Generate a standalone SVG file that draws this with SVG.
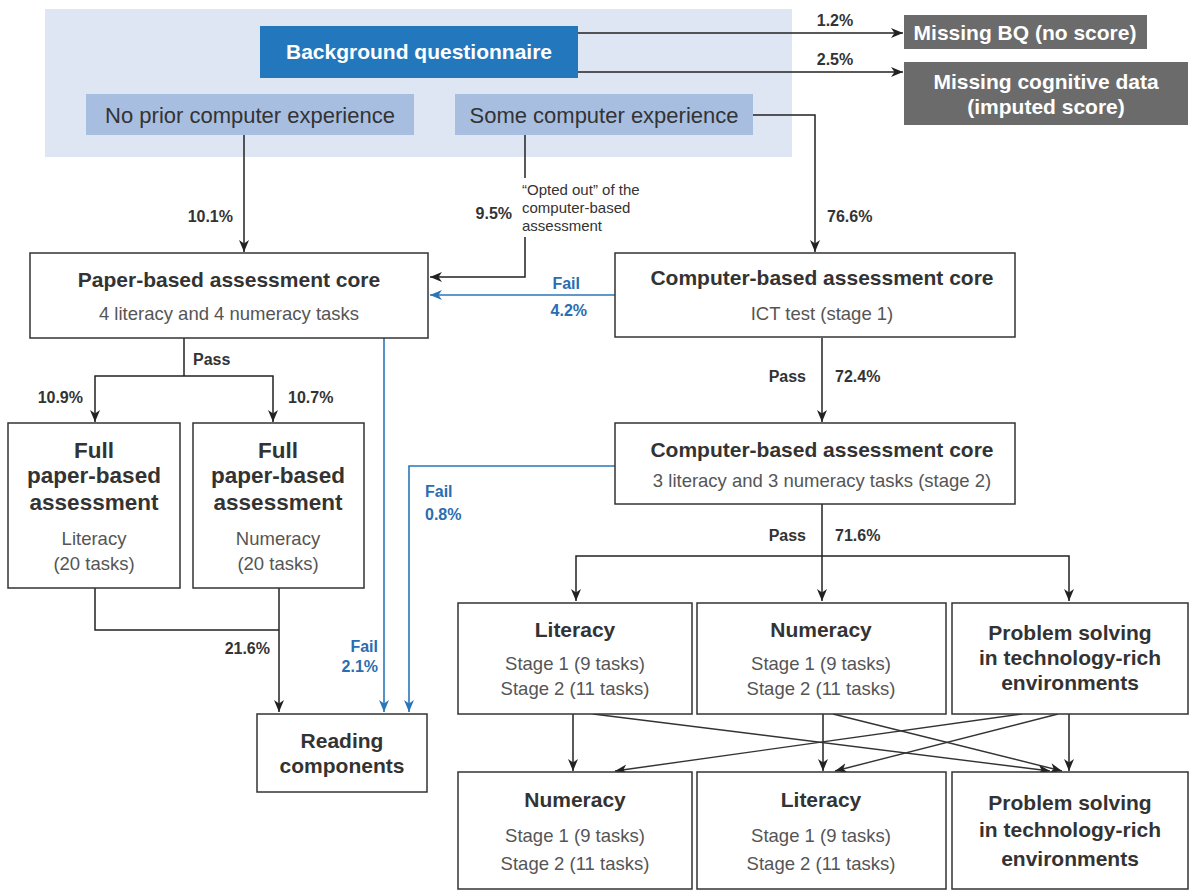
<svg xmlns="http://www.w3.org/2000/svg" width="1192" height="892" viewBox="0 0 1192 892">
<defs>
<marker id="ah" viewBox="0 0 12 10" refX="12" refY="5" markerWidth="12" markerHeight="10" markerUnits="userSpaceOnUse" orient="auto"><path d="M0,0 L12,5 L0,10 L3.5,5 Z" fill="#222"/></marker>
<marker id="ahb" viewBox="0 0 12 10" refX="12" refY="5" markerWidth="12" markerHeight="10" markerUnits="userSpaceOnUse" orient="auto"><path d="M0,0 L12,5 L0,10 L3.5,5 Z" fill="#2a77b8"/></marker>
</defs>
<style>
.box{fill:#fff;stroke:#333;stroke-width:1.5}
text{font-family:"Liberation Sans",Arial,sans-serif}
.t{fill:#333;text-anchor:middle;font-weight:bold;font-size:21px}
.big{font-size:22.5px}
.sub{fill:#555;text-anchor:middle;font-size:18.5px}
.ln{fill:none;stroke:#222;stroke-width:1.5;marker-end:url(#ah)}
.nl{fill:none;stroke:#222;stroke-width:1.5}
.dg{fill:none;stroke:#333;stroke-width:1.4;marker-end:url(#ah)}
.bl{fill:none;stroke:#2a77b8;stroke-width:1.6;marker-end:url(#ahb)}
.bn{fill:none;stroke:#2a77b8;stroke-width:1.6}
.pct{font-weight:bold;font-size:16px;fill:#333}
.fail{font-weight:bold;font-size:16px;fill:#2a6db0}
.note{font-size:15px;fill:#333}
.lb{fill:#a7bee0}
.lbt{fill:#333;font-size:22px;text-anchor:middle}
.gr{fill:#6b6b6b}
.grt{fill:#fff;font-weight:bold;font-size:21px;text-anchor:middle}
</style>
<rect id="bg-panel" x="45" y="9" width="747" height="148" fill="#dde6f2"/>

<g id="connectors">
<path class="ln" d="M578,33 H903"/>
<path class="ln" d="M578,72 H903"/>
<path class="ln" d="M244,135 V252"/>
<path class="nl" d="M525,135 V178"/>
<path class="ln" d="M525,237 V277 H430"/>
<path class="ln" d="M753,115 H815 V252"/>
<path class="bl" d="M615,295 H430"/>
<path class="nl" d="M184,338 V376"/>
<path class="ln" d="M184,376 H95 V422"/>
<path class="ln" d="M184,376 H273 V422"/>
<path class="bl" d="M384,338 V712"/>
<path class="bl" d="M615,466 H409 V712"/>
<path class="nl" d="M95,588 V630 H279"/>
<path class="ln" d="M279,588 V712"/>
<path class="ln" d="M822,338 V422"/>
<path class="nl" d="M822,504 V556"/>
<path class="ln" d="M822,556 V601"/>
<path class="ln" d="M822,556 H576 V601"/>
<path class="ln" d="M822,556 H1069 V601"/>
<path class="ln" d="M573,714 V771"/>
<path class="ln" d="M823,714 V771"/>
<path class="ln" d="M1069,714 V771"/>
<path class="dg" d="M593,714 L1050,771"/>
<path class="dg" d="M833,714 L1062,771"/>
<path class="dg" d="M1022,714 L615,771"/>
<path class="dg" d="M1058,714 L835,771"/>
<text class="pct" x="835" y="26" text-anchor="middle">1.2%</text>
<text class="pct" x="835" y="65" text-anchor="middle">2.5%</text>
<text class="pct" x="233" y="222" text-anchor="end">10.1%</text>
<text class="pct" x="512" y="219" text-anchor="end">9.5%</text>
<text class="note" x="522" y="195">“Opted out” of the</text>
<text class="note" x="522" y="213">computer-based</text>
<text class="note" x="522" y="231">assessment</text>
<text class="pct" x="827" y="222">76.6%</text>
<text class="fail" x="580" y="289" text-anchor="end">Fail</text>
<text class="fail" x="587" y="316" text-anchor="end">4.2%</text>
<text class="pct" x="193" y="365">Pass</text>
<text class="pct" x="83" y="403" text-anchor="end">10.9%</text>
<text class="pct" x="288" y="403">10.7%</text>
<text class="pct" x="806" y="382" text-anchor="end">Pass</text>
<text class="pct" x="835" y="382">72.4%</text>
<text class="fail" x="425" y="497">Fail</text>
<text class="fail" x="425" y="520">0.8%</text>
<text class="pct" x="806" y="541" text-anchor="end">Pass</text>
<text class="pct" x="835" y="541">71.6%</text>
<text class="pct" x="270" y="654" text-anchor="end">21.6%</text>
<text class="fail" x="378" y="652" text-anchor="end">Fail</text>
<text class="fail" x="378" y="672" text-anchor="end">2.1%</text>
</g>

<g id="bq">
<rect x="260" y="26" width="318" height="52" fill="#2277bd"/>
<text class="grt" x="419" y="59" font-size="20.5">Background questionnaire</text>
</g>
<g id="no-prior">
<rect class="lb" x="86" y="94" width="328" height="41"/>
<text class="lbt" x="250" y="123">No prior computer experience</text>
</g>
<g id="some-exp">
<rect class="lb" x="455" y="94" width="298" height="41"/>
<text class="lbt" x="604" y="123">Some computer experience</text>
</g>
<g id="missing-bq">
<rect class="gr" x="904" y="15" width="243" height="34"/>
<text class="grt" x="1025" y="40">Missing BQ (no score)</text>
</g>
<g id="missing-cog">
<rect class="gr" x="904" y="62" width="284" height="63"/>
<text class="grt" x="1046" y="89">Missing cognitive data</text>
<text class="grt" x="1046" y="114">(imputed score)</text>
</g>

<g id="paper-core">
<rect class="box" x="30" y="253" width="398" height="85"/>
<text class="t" x="229" y="287">Paper-based assessment core</text>
<text class="sub" x="229" y="320">4 literacy and 4 numeracy tasks</text>
</g>
<g id="cba-core1">
<rect class="box" x="615" y="253" width="400" height="84"/>
<text class="t" x="822" y="285">Computer-based assessment core</text>
<text class="sub" x="822" y="320">ICT test (stage 1)</text>
</g>
<g id="cba-core2">
<rect class="box" x="615" y="423" width="400" height="81"/>
<text class="t" x="822" y="457">Computer-based assessment core</text>
<text class="sub" x="822" y="487">3 literacy and 3 numeracy tasks (stage 2)</text>
</g>
<g id="full-lit">
<rect class="box" x="8" y="423" width="172" height="165"/>
<text class="t big" x="94" y="458">Full</text>
<text class="t big" x="94" y="483">paper-based</text>
<text class="t big" x="94" y="510">assessment</text>
<text class="sub" x="94" y="545">Literacy</text>
<text class="sub" x="94" y="570">(20 tasks)</text>
</g>
<g id="full-num">
<rect class="box" x="193" y="423" width="171" height="165"/>
<text class="t big" x="278" y="458">Full</text>
<text class="t big" x="278" y="483">paper-based</text>
<text class="t big" x="278" y="510">assessment</text>
<text class="sub" x="278" y="545">Numeracy</text>
<text class="sub" x="278" y="570">(20 tasks)</text>
</g>
<g id="reading">
<rect class="box" x="257" y="714" width="170" height="78"/>
<text class="t" x="342" y="748">Reading</text>
<text class="t" x="342" y="773">components</text>
</g>
<g id="r1-lit">
<rect class="box" x="458" y="603" width="234" height="111"/>
<text class="t" x="575" y="637">Literacy</text>
<text class="sub" x="575" y="670">Stage 1 (9 tasks)</text>
<text class="sub" x="575" y="695">Stage 2 (11 tasks)</text>
</g>
<g id="r1-num">
<rect class="box" x="697" y="603" width="249" height="111"/>
<text class="t" x="821" y="637">Numeracy</text>
<text class="sub" x="821" y="670">Stage 1 (9 tasks)</text>
<text class="sub" x="821" y="695">Stage 2 (11 tasks)</text>
</g>
<g id="r1-ps">
<rect class="box" x="952" y="603" width="236" height="111"/>
<text class="t" x="1070" y="640">Problem solving</text>
<text class="t" x="1070" y="665">in technology-rich</text>
<text class="t" x="1070" y="690">environments</text>
</g>
<g id="r2-num">
<rect class="box" x="458" y="772" width="234" height="117"/>
<text class="t" x="575" y="807">Numeracy</text>
<text class="sub" x="575" y="842">Stage 1 (9 tasks)</text>
<text class="sub" x="575" y="870">Stage 2 (11 tasks)</text>
</g>
<g id="r2-lit">
<rect class="box" x="697" y="772" width="249" height="117"/>
<text class="t" x="821" y="807">Literacy</text>
<text class="sub" x="821" y="842">Stage 1 (9 tasks)</text>
<text class="sub" x="821" y="870">Stage 2 (11 tasks)</text>
</g>
<g id="r2-ps">
<rect class="box" x="952" y="772" width="236" height="117"/>
<text class="t" x="1070" y="810">Problem solving</text>
<text class="t" x="1070" y="837">in technology-rich</text>
<text class="t" x="1070" y="866">environments</text>
</g>
</svg>
